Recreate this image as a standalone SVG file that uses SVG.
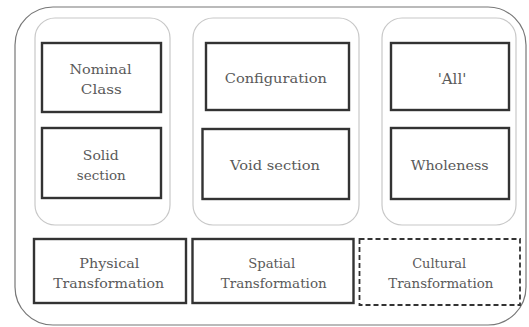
<svg xmlns="http://www.w3.org/2000/svg" width="529" height="327" viewBox="0 0 529 327">
<style>
.outer{fill:#fff;stroke:#777;stroke-width:1.2}
.grp{fill:#fff;stroke:#c8c8c8;stroke-width:1.2}
.box{fill:#fff;stroke:#333;stroke-width:2.4}
.dash{fill:#fff;stroke:#333;stroke-width:1.8;stroke-dasharray:5,3}
.t{font-family:'DejaVu Serif',serif;font-size:13.5px;fill:#5a5a5a;text-anchor:middle}
</style>
<rect width="529" height="327" fill="#fff"/>
<rect class="outer" x="15" y="7" width="511" height="318" rx="38" ry="38"/>
<g id="group1"><rect class="grp" x="35" y="18" width="135" height="207" rx="20" ry="20"/></g>
<g id="group2"><rect class="grp" x="193" y="18" width="166" height="207" rx="20" ry="20"/></g>
<g id="group3"><rect class="grp" x="382" y="18" width="134" height="207" rx="20" ry="20"/></g>
<g id="nominal"><rect class="box" x="42" y="43" width="119" height="69"/><text class="t" x="100.5" y="74" textLength="62" lengthAdjust="spacingAndGlyphs">Nominal</text><text class="t" x="101.3" y="94" textLength="41" lengthAdjust="spacingAndGlyphs">Class</text></g>
<g id="solid"><rect class="box" x="42" y="128" width="119" height="70"/><text class="t" x="100.8" y="160" textLength="36" lengthAdjust="spacingAndGlyphs">Solid</text><text class="t" x="101.3" y="180" textLength="49" lengthAdjust="spacingAndGlyphs">section</text></g>
<g id="configuration"><rect class="box" x="206" y="43" width="143" height="67"/><text class="t" x="275.8" y="83" textLength="102" lengthAdjust="spacingAndGlyphs">Configuration</text></g>
<g id="void"><rect class="box" x="202.5" y="129" width="146.5" height="70"/><text class="t" x="275" y="170" textLength="90" lengthAdjust="spacingAndGlyphs">Void section</text></g>
<g id="all"><rect class="box" x="391" y="43" width="118" height="67"/><text class="t" x="452" y="84" style="font-size:15px">'All'</text></g>
<g id="wholeness"><rect class="box" x="391" y="128" width="118" height="71"/><text class="t" x="449.7" y="170" textLength="78" lengthAdjust="spacingAndGlyphs">Wholeness</text></g>
<g id="physical"><rect class="box" x="34" y="239" width="152" height="64"/><text class="t" x="109.3" y="268" textLength="60" lengthAdjust="spacingAndGlyphs">Physical</text><text class="t" x="108.7" y="288" textLength="111" lengthAdjust="spacingAndGlyphs">Transformation</text></g>
<g id="spatial"><rect class="box" x="192.5" y="239" width="161" height="64"/><text class="t" x="271.7" y="268" textLength="47" lengthAdjust="spacingAndGlyphs">Spatial</text><text class="t" x="273.7" y="288" textLength="106" lengthAdjust="spacingAndGlyphs">Transformation</text></g>
<g id="cultural"><rect class="dash" x="359.5" y="239" width="160.5" height="66"/><text class="t" x="439.2" y="268" textLength="54" lengthAdjust="spacingAndGlyphs">Cultural</text><text class="t" x="440.8" y="288" textLength="105" lengthAdjust="spacingAndGlyphs">Transformation</text></g>
<g id="connectors"></g>
</svg>
